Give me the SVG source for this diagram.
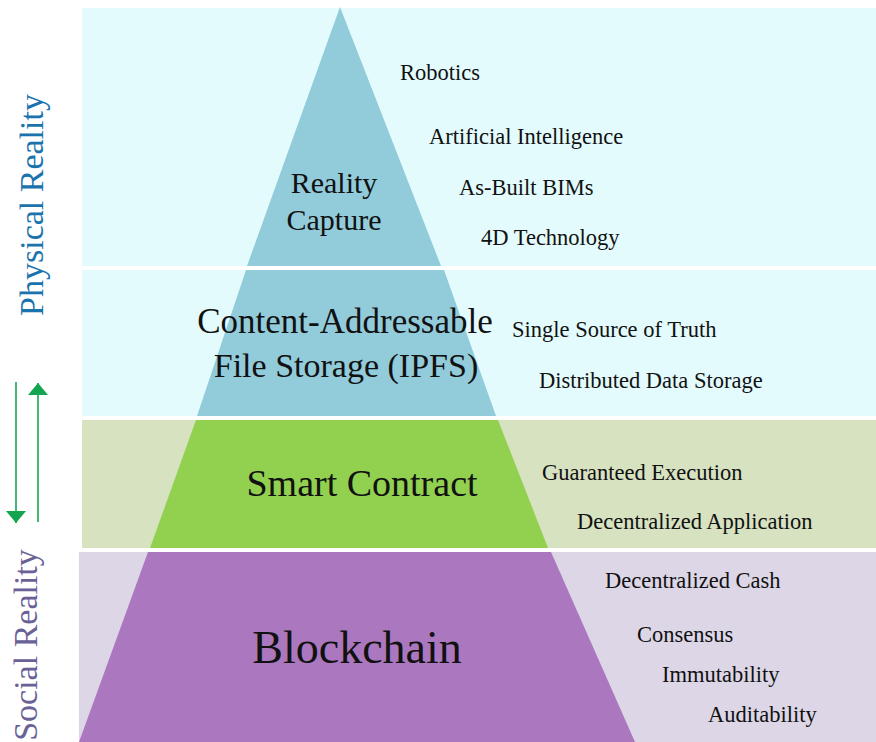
<svg xmlns="http://www.w3.org/2000/svg" width="876" height="742" viewBox="0 0 876 742">
<defs>
<style>
text{font-family:"Liberation Serif","DejaVu Serif","Times New Roman",serif}
.lbl{fill:#111;font-size:22.5px}
.tier{fill:#111;text-anchor:middle}
.side{font-size:34px;text-anchor:middle}
.arr{stroke:#14a550;stroke-width:1.6;fill:none}
</style>
<marker id="ah" viewBox="0 0 12 20" refX="12" refY="10" markerWidth="12" markerHeight="20" markerUnits="userSpaceOnUse" orient="auto">
<path d="M0,0 L12,10 L0,20 Z" fill="#14a550"/>
</marker>
</defs>
<rect width="876" height="742" fill="#ffffff"/>
<g id="bands">
<rect x="82" y="8" width="794" height="258" fill="#e3fbfd"/>
<rect x="82" y="270" width="794" height="146" fill="#e3fbfd"/>
<rect x="82" y="420" width="794" height="128" fill="#d7e2c1"/>
<rect x="79" y="552" width="797" height="190" fill="#dcd6e6"/>
</g>
<g id="reality-capture" font-family="'Liberation Serif', 'DejaVu Serif', serif">
<polygon points="340,7 441,266 247,266" fill="#92cbda"/>
<text class="tier" x="334" y="193" font-size="30">Reality</text>
<text class="tier" x="334" y="230" font-size="30">Capture</text>
</g>
<g id="ipfs" font-family="'Liberation Serif', 'DejaVu Serif', serif">
<polygon points="246,270 444,270 496,416 197,416" fill="#92cbda"/>
<text class="tier" x="345" y="333" font-size="35">Content-Addressable</text>
<text class="tier" x="346" y="377" font-size="34">File Storage (IPFS)</text>
</g>
<g id="smart-contract" font-family="'Liberation Serif', 'DejaVu Serif', serif">
<polygon points="196,420 498,420 548,548 150,548" fill="#92d050"/>
<text class="tier" x="362" y="496" font-size="38">Smart Contract</text>
</g>
<g id="blockchain" font-family="'Liberation Serif', 'DejaVu Serif', serif">
<polygon points="148,552 551,552 635,742 79,742" fill="#ab77be"/>
<text class="tier" x="357" y="663" font-size="46">Blockchain</text>
</g>
<g id="labels" font-family="'Liberation Serif', 'DejaVu Serif', serif">
<text class="lbl" x="400" y="80">Robotics</text>
<text class="lbl" x="429" y="144">Artificial Intelligence</text>
<text class="lbl" x="459" y="195">As-Built BIMs</text>
<text class="lbl" x="481" y="245">4D Technology</text>
<text class="lbl" x="512" y="337">Single Source of Truth</text>
<text class="lbl" x="539" y="388">Distributed Data Storage</text>
<text class="lbl" x="542" y="480">Guaranteed Execution</text>
<text class="lbl" x="577" y="529">Decentralized Application</text>
<text class="lbl" x="605" y="588">Decentralized Cash</text>
<text class="lbl" x="637" y="642">Consensus</text>
<text class="lbl" x="662" y="682">Immutability</text>
<text class="lbl" x="708" y="722">Auditability</text>
</g>
<g id="side-labels" font-family="'Liberation Serif', 'DejaVu Serif', serif">
<text class="side" fill="#1b73ad" transform="translate(43,205) rotate(-90)">Physical Reality</text>
<text class="side" fill="#6a6296" transform="translate(37,645) rotate(-90)">Social Reality</text>
</g>
<g id="connectors">
<line class="arr" x1="16" y1="382" x2="16" y2="523" marker-end="url(#ah)"/>
<line class="arr" x1="38" y1="522" x2="38" y2="383" marker-end="url(#ah)"/>
</g>
</svg>
